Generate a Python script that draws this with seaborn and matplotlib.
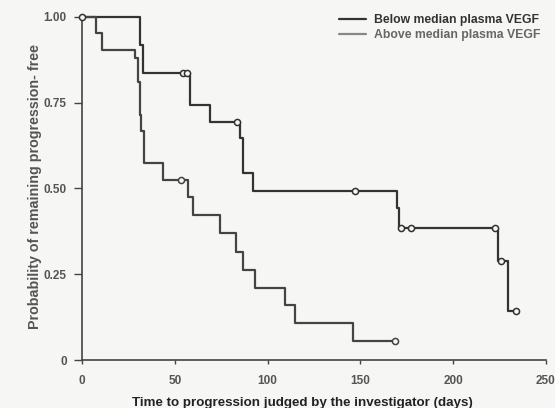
import numpy as np
import pandas as pd
import seaborn as sns
import matplotlib.pyplot as plt

# Kaplan-Meier steps (time in days, survival after event)
below_event_days = [31.5, 33, 58, 69, 85, 87, 92, 170, 171, 224.3, 229.7]
below_surv = [0.918, 0.836, 0.743, 0.695, 0.646, 0.544, 0.494, 0.442, 0.386, 0.29, 0.143]
below_censor_days = [0, 54.6, 56.7, 83.7, 147, 172, 177.5, 222.5, 226, 233.8]
below_censor_surv = [1.0, 0.836, 0.836, 0.695, 0.494, 0.386, 0.386, 0.386, 0.29, 0.143]

above_event_days = [7.5, 10.6, 28.5, 30, 31, 32, 33.4, 43.8, 57, 60, 74.3, 83, 86.5, 93, 109.4, 114.8, 146]
above_surv = [0.952, 0.904, 0.88, 0.81, 0.714, 0.667, 0.575, 0.525, 0.475, 0.423, 0.371,
              0.316, 0.262, 0.209, 0.16, 0.107, 0.056]
above_censor_days = [53.5, 168.6]
above_censor_surv = [0.525, 0.056]

labels = ["Below median plasma VEGF", "Above median plasma VEGF"]
x_ticks = [0, 50, 100, 150, 200, 250]
y_ticks = [0, 0.25, 0.5, 0.75, 1.0]
y_ticklabels = ["0", "0.25", "0.50", "0.75", "1.00"]


def step_frame(days, surv, censor_days, label):
    t = [0] + list(days) + [max(censor_days + list(days))]
    s = [1.0] + list(surv) + [surv[-1]]
    return pd.DataFrame({"time": t, "surv": s, "group": label})


curves = pd.concat([
    step_frame(below_event_days, below_surv, below_censor_days, labels[0]),
    step_frame(above_event_days, above_surv, above_censor_days, labels[1]),
], ignore_index=True)
censors = pd.concat([
    pd.DataFrame({"time": below_censor_days, "surv": below_censor_surv, "group": labels[0]}),
    pd.DataFrame({"time": above_censor_days, "surv": above_censor_surv, "group": labels[1]}),
], ignore_index=True)

sns.set_style("ticks")
plt.rcParams['font.family'] = ['Liberation Sans', 'DejaVu Sans']

bg = "#f6f6f4"
fig = plt.figure(figsize=(5.55, 4.08), dpi=100, facecolor=bg)
ax = fig.add_axes([0.1477, 0.1176, 0.836, 0.841], facecolor=bg)

palette = {labels[0]: "#333333", labels[1]: "#444444"}
sns.lineplot(data=curves, x="time", y="surv", hue="group", palette=palette,
             estimator=None, sort=False, drawstyle="steps-post", lw=1.6,
             ax=ax, clip_on=False)
for g in labels:
    sub = censors[censors["group"] == g]
    ax.plot(sub["time"], sub["surv"], "o", ms=4.4, mfc=bg, mec=palette[g],
            mew=1.1, clip_on=False, zorder=4)

ax.set_xlim(0, 250)
ax.set_ylim(0, 1.0)
ax.set_xticks(x_ticks)
ax.set_yticks(y_ticks)
ax.set_yticklabels(y_ticklabels)
ax.tick_params(axis="both", labelsize=8.5, colors="#444444", width=1,
               labelcolor="#555555")
ax.tick_params(axis="x", length=3, pad=8)
ax.tick_params(axis="y", length=6, pad=5)
for lab in ax.get_xticklabels() + ax.get_yticklabels():
    lab.set_fontweight("bold")
sns.despine(ax=ax)
for sp in ["left", "bottom"]:
    ax.spines[sp].set_color("#444444")
    ax.spines[sp].set_linewidth(1.2)

ax.set_xlabel("Time to progression judged by the investigator (days)",
              fontsize=9.6, fontweight="bold", color="#222222")
ax.xaxis.set_label_coords(0.474, -0.108)
ax.set_ylabel("Probability of remaining progression- free",
              fontsize=10.3, fontweight="bold", color="#555555")
ax.yaxis.set_label_coords(-0.086, 0.505)

handles, _ = ax.get_legend_handles_labels()
handles[1].set_color("#888888")
leg = ax.legend(handles, labels, loc="upper right", bbox_to_anchor=(1.012, 1.04),
                frameon=False, fontsize=8.8, handlelength=2.2, handletextpad=0.7,
                labelspacing=0.25)
leg.get_texts()[0].set_color("#333333")
leg.get_texts()[1].set_color("#666666")
for t in leg.get_texts():
    t.set_fontweight("bold")

fig.savefig("out.png", dpi=100, facecolor=bg)
